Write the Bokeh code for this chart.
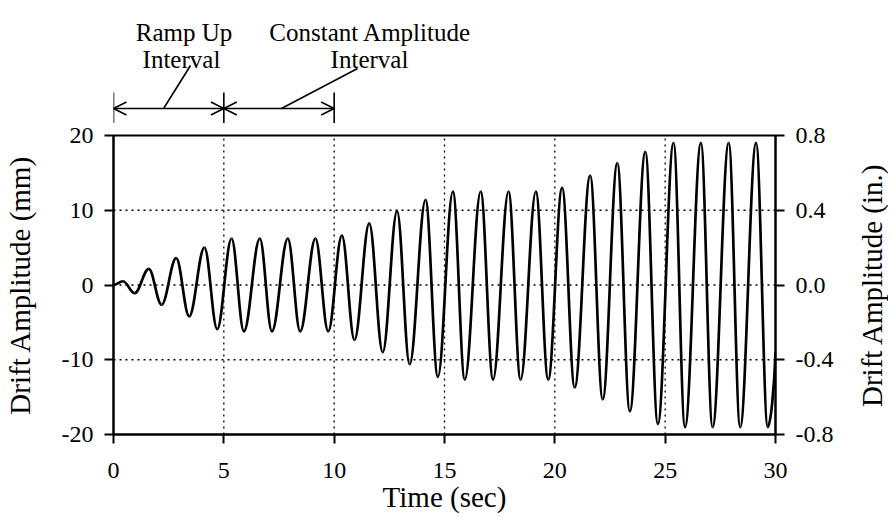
import math
import numpy as np
from bokeh.plotting import figure
from bokeh.layouts import column, row
from bokeh.models import (Range1d, LinearAxis, FixedTicker, PrintfTickFormatter, Arrow, OpenHead)
from bokeh.core.properties import value
from bokeh.embed import file_html
from bokeh.resources import INLINE

# ---- data (extrema of the drift history) ----
wave_t = [0.0, 0.43, 0.96, 1.6, 2.18, 2.84, 3.43, 4.12, 4.7, 5.35, 5.91, 6.63, 7.18, 7.9, 8.46,
          9.15, 9.73, 10.35, 10.92, 11.59, 12.2, 12.85, 13.42, 14.14, 14.7, 15.38, 15.92, 16.64,
          17.2, 17.9, 18.45, 19.14, 19.7, 20.33, 20.9, 21.6, 22.17, 22.83, 23.4, 24.1, 24.67,
          25.38, 25.9, 26.62, 27.15, 27.88, 28.4, 29.12, 29.65, 30.0]
wave_mm = [0.0, 0.5, -1.1, 2.15, -2.65, 3.6, -4.2, 5.0, -5.9, 6.2, -6.2, 6.2, -6.2, 6.2, -6.2,
           6.2, -6.2, 6.6, -7.35, 8.25, -9.0, 9.9, -10.6, 11.4, -12.3, 12.5, -12.65, 12.5,
           -12.65, 12.5, -12.65, 12.5, -12.65, 13.0, -13.7, 14.65, -15.3, 16.3, -16.9, 17.8, -18.6,
           19.0, -19.0, 19.0, -19.0, 19.0, -19.0, 19.0, -19.0, -9.0]

x_ticks = [0, 5, 10, 15, 20, 25, 30]
mm_ticks = [-20, -10, 0, 10, 20]
in_ticks = [-0.8, -0.4, 0.0, 0.4, 0.8]
grid_x = [5, 10, 15, 20, 25]
grid_y = [-10, 0, 10]
interval_edges = [0, 5, 10]
interval_line1 = ["Ramp Up", "Constant Amplitude"]
interval_line2 = ["Interval", "Interval"]
x_title = "Time (sec)"
y_title = "Drift Amplitude (mm)"
y2_title = "Drift Amplitude (in.)"

FONT = "Liberation Serif"
MM_PER_IN = 25.0
X0, X1 = 0, 30
Y0, Y1 = -20, 20
LEFT, RIGHT = 113, 62
W_MAIN = 837
W_R = 51
W_ALL = W_MAIN + W_R
TOP_H = 123
MAIN_H = 393
B_TOP, B_BOT = 12, 82

xr = Range1d(X0, X1)

# ---------------- annotation strip (screen-pixel y, downwards) ----------------
top = figure(width=W_ALL, height=TOP_H, x_range=xr, y_range=Range1d(TOP_H, 0),
             output_backend="svg", toolbar_location=None,
             x_axis_location=None, y_axis_location=None,
             min_border_left=LEFT, min_border_right=W_ALL - W_MAIN + RIGHT,
             min_border_top=0, min_border_bottom=0)
top.outline_line_color = None
top.grid.visible = False

BAR_TOP, BAR_BOT = 92, 127
ARROW_Y = 108
top.segment(x0=interval_edges, y0=[BAR_TOP] * 3, x1=interval_edges, y1=[BAR_BOT] * 3,
            line_color="black", line_width=1.6)
for a, b in zip(interval_edges[:-1], interval_edges[1:]):
    top.add_layout(Arrow(x_start=a, y_start=ARROW_Y, x_end=b, y_end=ARROW_Y,
                         start=OpenHead(size=13, line_width=1.5, line_color="black"),
                         end=OpenHead(size=13, line_width=1.5, line_color="black"),
                         line_width=1.5, line_color="black"))
top.segment(x0=[3.49, 11.06], y0=[65, 68], x1=[2.27, 7.61], y1=[ARROW_Y, ARROW_Y],
            line_color="black", line_width=1.6)
top.text(x=[3.2, 11.64], y=[32, 32], text=interval_line1, text_font=value(FONT),
         text_font_size=value("25px"), text_align="center", text_baseline="alphabetic",
         text_color="black")
top.text(x=[3.08, 11.6], y=[59, 59], text=interval_line2, text_font=value(FONT),
         text_font_size=value("25px"), text_align="center", text_baseline="alphabetic",
         text_color="black")

# ---------------- main plot ----------------
p = figure(width=W_MAIN, height=MAIN_H, x_range=xr, y_range=Range1d(Y0, Y1),
           output_backend="svg", toolbar_location=None,
           x_axis_location=None, y_axis_location=None,
           min_border_left=LEFT, min_border_right=RIGHT, min_border_top=B_TOP,
           min_border_bottom=B_BOT)
p.outline_line_color = "black"
p.outline_line_width = 2
p.outline_line_alpha = 1
p.background_fill_color = "white"
p.border_fill_color = "white"
p.grid.visible = False

p.extra_y_ranges = {"inch": Range1d(Y0 / MM_PER_IN, Y1 / MM_PER_IN)}

xaxis = LinearAxis(ticker=FixedTicker(ticks=x_ticks), formatter=PrintfTickFormatter(format="%d"),
                   axis_label=x_title)
yaxis = LinearAxis(ticker=FixedTicker(ticks=mm_ticks), formatter=PrintfTickFormatter(format="%d"),
                   axis_label=y_title)
raxis = LinearAxis(y_range_name="inch", ticker=FixedTicker(ticks=in_ticks),
                   formatter=PrintfTickFormatter(format="%.1f"))
for ax in (xaxis, yaxis, raxis):
    ax.axis_line_width = 2
    ax.axis_line_color = "black"
    ax.major_tick_line_width = 2
    ax.major_tick_line_color = "black"
    ax.major_tick_in = 0
    ax.major_tick_out = 9
    ax.minor_tick_line_color = None
    ax.major_label_text_font = FONT
    ax.major_label_text_font_size = "24px"
    ax.major_label_text_color = "black"
    ax.major_label_standoff = 11
    ax.axis_label_text_font = FONT
    ax.axis_label_text_font_size = "29px"
    ax.axis_label_text_font_style = "normal"
    ax.axis_label_text_color = "black"
xaxis.major_label_standoff = 19
xaxis.axis_label_standoff = 0
yaxis.axis_label_standoff = 23
p.add_layout(xaxis, "below")
p.add_layout(yaxis, "left")
p.add_layout(raxis, "right")

# dotted grid lines
p.segment(x0=grid_x, y0=[Y0] * len(grid_x), x1=grid_x, y1=[Y1] * len(grid_x),
          line_color="black", line_width=1.3, line_dash="2 4")
p.segment(x0=[X0] * len(grid_y), y0=grid_y, x1=[X1] * len(grid_y), y1=grid_y,
          line_color="black", line_width=1.3, line_dash="2 4")

# waveform: smooth half-cycles between successive extrema
t = np.array(wave_t)
v = np.array(wave_mm)
dt = t[1:] - t[:-1]
k = 0.3634
cx0 = t[:-1] + k * dt
cy0 = v[:-1].copy()
cx1 = t[1:] - k * dt
cy1 = v[1:].copy()
cx1[-1] = t[-1] - 0.15 * dt[-1]
cy1[-1] = v[-1] - 0.45 * (v[-1] - v[-2])
p.bezier(x0=t[:-1], y0=v[:-1], x1=t[1:], y1=v[1:], cx0=cx0, cy0=cy0, cx1=cx1, cy1=cy1,
         line_color="black", line_width=2.7)

# ---------------- right-hand axis title (reads bottom to top) ----------------
rf = figure(width=W_R, height=MAIN_H, x_range=Range1d(0, W_R), y_range=Range1d(Y0, Y1),
            output_backend="svg", toolbar_location=None,
            x_axis_location=None, y_axis_location=None,
            min_border_left=0, min_border_right=0, min_border_top=B_TOP, min_border_bottom=B_BOT)
rf.outline_line_color = None
rf.grid.visible = False
rf.text(x=[34], y=[0], text=[y2_title], angle=math.pi / 2, text_font=value(FONT),
        text_font_size=value("29px"), text_align="center", text_baseline="middle",
        text_color="black")

layout = column(top, row(p, rf, spacing=0), spacing=0)
open("out.html", "w").write(file_html(layout, INLINE))
